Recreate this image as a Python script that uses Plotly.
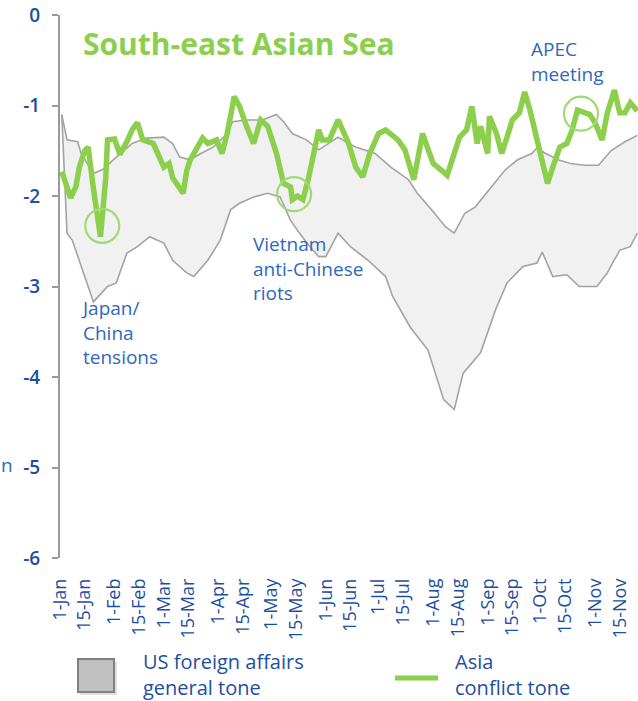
import pandas as pd
import plotly.graph_objects as go

# ---------------- data (days since 1 Jan 2014, tone values) ----------------
green_days = [1, 3, 6, 9, 11, 14, 16, 19, 23, 26, 27, 31, 34, 38, 41, 44, 47, 53, 56, 59, 62, 64,
              70, 72, 74, 78, 81, 84, 89, 92, 95, 99, 102, 106, 110, 114, 118, 123, 127, 131,
              132, 135, 138, 141, 147, 149, 153, 158, 164, 168, 172, 176, 181, 185, 192, 196,
              201, 206, 212, 220, 223, 227, 231, 234, 237, 239, 243, 244, 248, 251, 254, 257,
              261, 264, 267, 271, 274, 277, 280, 284, 288, 291, 294, 298, 301, 304, 308, 311,
              315, 318, 321, 324, 328]
green_vals = [-1.73, -1.85, -2.02, -1.90, -1.68, -1.50, -1.46, -1.92, -2.45, -1.80, -1.38, -1.37,
              -1.54, -1.40, -1.27, -1.19, -1.38, -1.42, -1.55, -1.68, -1.64, -1.80, -1.97, -1.72,
              -1.60, -1.45, -1.36, -1.42, -1.38, -1.53, -1.31, -0.90, -1.01, -1.23, -1.42, -1.16,
              -1.23, -1.53, -1.86, -1.90, -2.04, -2.00, -2.04, -1.82, -1.27, -1.38, -1.38, -1.16,
              -1.42, -1.68, -1.79, -1.53, -1.31, -1.27, -1.38, -1.49, -1.82, -1.31, -1.64, -1.77,
              -1.60, -1.35, -1.27, -1.01, -1.42, -1.23, -1.53, -1.12, -1.31, -1.53, -1.35, -1.16,
              -1.08, -0.85, -1.05, -1.35, -1.60, -1.86, -1.68, -1.46, -1.42, -1.27, -1.05, -1.08,
              -1.10, -1.19, -1.38, -1.08, -0.83, -1.08, -1.08, -0.97, -1.06]

upper_days = [1, 4, 10, 12, 19, 24, 32, 41, 49, 59, 64, 68, 74, 80, 87, 95, 98, 106, 115, 123,
              127, 132, 140, 147, 158, 168, 179, 188, 198, 203, 211, 219, 224, 230, 236, 245,
              253, 260, 268, 271, 276, 283, 290, 298, 306, 313, 321, 328]
upper_vals = [-1.10, -1.38, -1.40, -1.53, -1.75, -1.71, -1.57, -1.42, -1.36, -1.35, -1.42, -1.57,
              -1.60, -1.53, -1.46, -1.31, -1.18, -1.16, -1.16, -1.10, -1.18, -1.31, -1.38, -1.49,
              -1.35, -1.46, -1.53, -1.68, -1.82, -1.97, -2.15, -2.34, -2.41, -2.19, -2.12, -1.90,
              -1.71, -1.60, -1.53, -1.47, -1.53, -1.60, -1.64, -1.66, -1.66, -1.50, -1.40, -1.33]

lower_days = [1, 4, 7, 11, 17, 19, 27, 32, 38, 44, 51, 59, 64, 72, 76, 84, 91, 97, 102, 110,
              118, 125, 131, 136, 142, 147, 151, 158, 165, 175, 185, 189, 199, 209, 218, 224,
              229, 239, 248, 254, 263, 271, 274, 280, 288, 295, 305, 311, 314, 318, 324, 328]
lower_vals = [-1.10, -2.41, -2.49, -2.71, -3.04, -3.17, -3.00, -2.96, -2.63, -2.56, -2.45, -2.52,
              -2.71, -2.85, -2.89, -2.71, -2.49, -2.15, -2.08, -2.01, -1.97, -2.01, -2.27, -2.41,
              -2.56, -2.67, -2.67, -2.41, -2.56, -2.71, -2.89, -3.11, -3.45, -3.70, -4.25, -4.36,
              -3.96, -3.73, -3.23, -2.96, -2.78, -2.74, -2.62, -2.89, -2.87, -3.00, -3.00, -2.85,
              -2.74, -2.60, -2.56, -2.41]

event_days = [24, 133, 296]
event_vals = [-2.33, -1.98, -1.09]

tick_dates = ["2014-01-01", "2014-01-15", "2014-02-01", "2014-02-15", "2014-03-01", "2014-03-15",
              "2014-04-01", "2014-04-15", "2014-05-01", "2014-05-15", "2014-06-01", "2014-06-15",
              "2014-07-01", "2014-07-15", "2014-08-01", "2014-08-15", "2014-09-01", "2014-09-15",
              "2014-10-01", "2014-10-15", "2014-11-01", "2014-11-15"]
tick_labels = ["1-Jan", "15-Jan", "1-Feb", "15-Feb", "1-Mar", "15-Mar", "1-Apr", "15-Apr",
               "1-May", "15-May", "1-Jun", "15-Jun", "1-Jul", "15-Jul", "1-Aug", "15-Aug",
               "1-Sep", "15-Sep", "1-Oct", "15-Oct", "1-Nov", "15-Nov"]
y_ticks = [0, -1, -2, -3, -4, -5, -6]

# ---------------- helpers ----------------
start = pd.Timestamp("2014-01-01")
def to_dates(days):
    return [start + pd.Timedelta(days=d) for d in days]

W, H = 638, 701
L, R, T, B = 60, 0, 15, 143
PW, PH = W - L - R, H - T - B
def px(x):
    return (x - L) / PW
def py(y):
    return (H - B - y) / PH

GREEN = "#8ccf4d"
BLUE_TXT = "#2f68bd"
BLUE_AX = "#1d4f9f"

fig = go.Figure()

band_x = to_dates(upper_days) + to_dates(lower_days)[::-1]
band_y = upper_vals + lower_vals[::-1]
fig.add_trace(go.Scatter(x=band_x, y=band_y, fill="toself", fillcolor="#f1f1f1",
                         line=dict(width=0), mode="lines", hoverinfo="skip", showlegend=False))
fig.add_trace(go.Scatter(x=to_dates(upper_days), y=upper_vals, mode="lines",
                         line=dict(color="#a3a3a3", width=1.6), showlegend=False))
fig.add_trace(go.Scatter(x=to_dates(lower_days), y=lower_vals, mode="lines",
                         line=dict(color="#a3a3a3", width=1.6), showlegend=False))
fig.add_trace(go.Scatter(x=to_dates(green_days), y=green_vals, mode="lines",
                         line=dict(color=GREEN, width=5.5), showlegend=False))
fig.add_trace(go.Scatter(x=to_dates(event_days), y=event_vals, mode="markers",
                         marker=dict(size=34, color="rgba(0,0,0,0)",
                                     line=dict(color="#a3d877", width=2.2)),
                         showlegend=False))

fig.update_xaxes(type="date", automargin=False,
                 range=[start, start + pd.Timedelta(days=328.4)],
                 tickvals=pd.to_datetime(tick_dates), ticktext=tick_labels,
                 tickangle=-90, showgrid=False, zeroline=False, showline=False,
                 ticks="", ticklabelstandoff=16,
                 tickfont=dict(family="Open Sans", size=18, color=BLUE_AX))
fig.update_yaxes(range=[-6, 0], automargin=False, tickvals=y_ticks,
                 ticktext=[str(v) for v in y_ticks],
                 showgrid=False, zeroline=False, showline=True, linecolor="#9a9a9a",
                 linewidth=2, ticks="outside", ticklen=6, tickcolor="#9a9a9a", tickwidth=2,
                 ticklabelstandoff=8,
                 tickfont=dict(family="Open Sans", size=19, color=BLUE_AX, weight=600))

annotations = [
    dict(text="<b>South-east Asian Sea</b>", x=px(81), y=py(44), xanchor="left",
         yanchor="middle", font=dict(family="Open Sans", size=30, color=GREEN)),
    dict(text="Japan/<br>China<br>tensions", x=px(79), y=py(332), xanchor="left",
         yanchor="middle", align="left", font=dict(family="Open Sans", size=19, color=BLUE_TXT)),
    dict(text="Vietnam<br>anti-Chinese<br>riots", x=px(251), y=py(268), xanchor="left",
         yanchor="middle", align="left", font=dict(family="Open Sans", size=19, color=BLUE_TXT)),
    dict(text="APEC<br>meeting", x=px(529), y=py(61), xanchor="left",
         yanchor="middle", align="left", font=dict(family="Open Sans", size=19, color=BLUE_TXT)),
    dict(text="n", x=px(-1), y=py(465), xanchor="left", yanchor="middle",
         font=dict(family="Open Sans", size=19, color=BLUE_TXT)),
    dict(text="US foreign affairs<br>general tone", x=px(141), y=py(674), xanchor="left",
         yanchor="middle", align="left", font=dict(family="Open Sans", size=20, color=BLUE_AX)),
    dict(text="Asia<br>conflict tone", x=px(453), y=py(674), xanchor="left",
         yanchor="middle", align="left", font=dict(family="Open Sans", size=20, color=BLUE_AX)),
]
for a in annotations:
    a.update(xref="paper", yref="paper", showarrow=False)

shapes = [
    dict(type="rect", x0=px(80), x1=px(117), y0=py(695), y1=py(662),
         fillcolor="rgba(0,0,0,0.12)", line=dict(width=0)),
    dict(type="rect", x0=px(78), x1=px(114), y0=py(692), y1=py(659),
         fillcolor="#c0c0c0", line=dict(color="#808080", width=2)),
    dict(type="line", x0=px(395), x1=px(438), y0=py(678), y1=py(678),
         line=dict(color=GREEN, width=5)),
]
for s in shapes:
    s.update(xref="paper", yref="paper")

fig.update_layout(width=W, height=H, margin=dict(l=L, r=R, t=T, b=B),
                  plot_bgcolor="white", paper_bgcolor="white",
                  annotations=annotations, shapes=shapes, showlegend=False)

fig.write_html("out.html", config={"displayModeBar": False},
               post_script="document.body.style.margin='0';document.body.style.padding='0';")
